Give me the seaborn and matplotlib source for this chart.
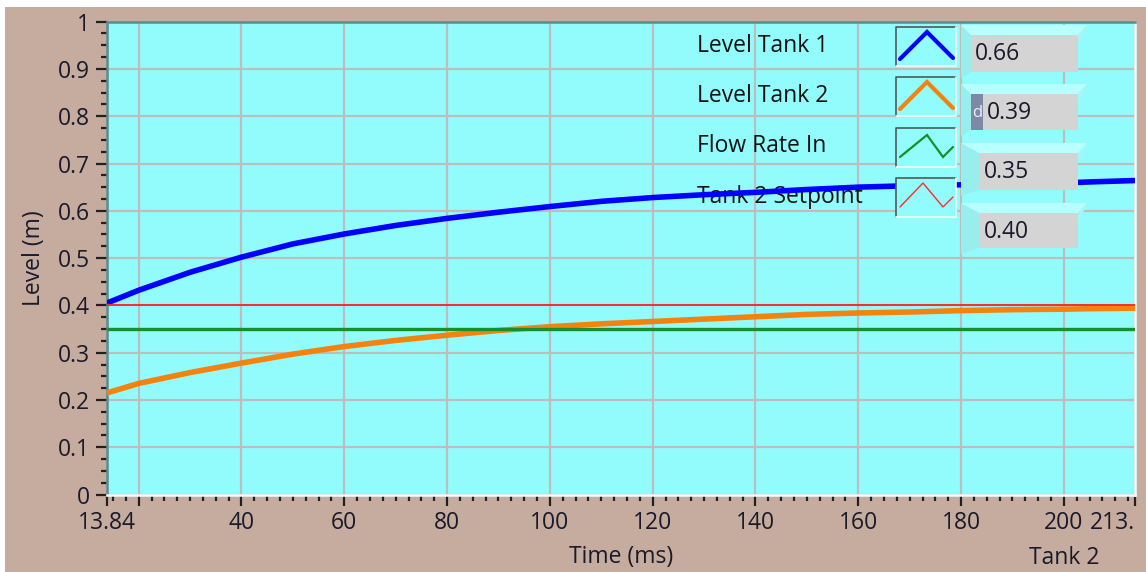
import matplotlib
matplotlib.use("Agg")
import matplotlib.pyplot as plt
import numpy as np
import pandas as pd
import seaborn as sns
from matplotlib.patches import Rectangle, Polygon
from matplotlib.lines import Line2D
from matplotlib.ticker import MultipleLocator, FixedLocator

# ---- data -------------------------------------------------------------
time_ms = [13.84, 20, 30, 40, 50, 60, 70, 80, 90, 100, 110, 120, 130,
           140, 150, 160, 170, 180, 190, 200, 205, 213.84]
level_tank1 = [0.405, 0.432, 0.470, 0.502, 0.530, 0.551, 0.569, 0.584,
               0.597, 0.609, 0.620, 0.628, 0.634, 0.639, 0.645, 0.650,
               0.653, 0.655, 0.657, 0.659, 0.661, 0.664]
level_tank2 = [0.215, 0.235, 0.258, 0.278, 0.297, 0.313, 0.326, 0.337,
               0.347, 0.355, 0.361, 0.366, 0.371, 0.376, 0.381, 0.384,
               0.386, 0.389, 0.391, 0.392, 0.393, 0.394]
flow_rate_in = [0.35] * len(time_ms)
tank2_setpoint = [0.40] * len(time_ms)

series_names = ["Level Tank 1", "Level Tank 2", "Flow Rate In", "Tank 2 Setpoint"]
series_values = [level_tank1, level_tank2, flow_rate_in, tank2_setpoint]
series_colors = ["#0000FF", "#F5820F", "#16902A", "#FF2A2A"]
series_widths = [4.0, 4.0, 2.4, 1.4]

x_major = [13.84, 20, 40, 60, 80, 100, 120, 140, 160, 180, 200, 213.84]
x_labels = ["13.84", "", "40", "60", "80", "100", "120", "140", "160", "180", "200", "213."]
y_major = [0, 0.1, 0.2, 0.3, 0.4, 0.5, 0.6, 0.7, 0.8, 0.9, 1.0]
y_labels = ["0", "0.1", "0.2", "0.3", "0.4", "0.5", "0.6", "0.7", "0.8", "0.9", "1"]

# ---- style ------------------------------------------------------------
BG = "#C5AC9E"
PLOT_BG = "#92FCFC"
TXT = "#1a1a2a"
FS = 16.5
sns.set_theme(style="whitegrid")
plt.rcParams["font.family"] = ["Open Sans", "DejaVu Sans"]

W, H = 1146, 572
fig = plt.figure(figsize=(W / 100, H / 100), dpi=100, facecolor=BG)


def fx(px):
    return px / W


def fy(py):
    return 1 - py / H


ax = fig.add_axes([fx(107), fy(494.6), fx(1135) - fx(107), (494.6 - 21.6) / H])
ax.set_facecolor(PLOT_BG)

# white strips along the top and left of the panel
fig.patches.append(Rectangle((0, fy(7)), 1, 7 / H, transform=fig.transFigure,
                             facecolor="white", edgecolor="none", zorder=0))
fig.patches.append(Rectangle((0, 0), fx(5), 1, transform=fig.transFigure,
                             facecolor="white", edgecolor="none", zorder=0))

# ---- curves -----------------------------------------------------------
df = pd.DataFrame({
    "Time (ms)": np.tile(time_ms, len(series_names)),
    "Level (m)": np.concatenate(series_values),
    "Series": np.repeat(series_names, len(time_ms)),
})
for name, color, lw in zip(series_names, series_colors, series_widths):
    sns.lineplot(data=df[df["Series"] == name], x="Time (ms)", y="Level (m)",
                 color=color, linewidth=lw, ax=ax, legend=False, zorder=3,
                 solid_capstyle="butt")

ax.set_xlim(13.84, 213.84)
ax.set_ylim(0, 1)

# ---- axes, ticks, grid ----------------------------------------------
ax.set_axisbelow(True)
ax.grid(True, which="major", color="#BDBDBD", linewidth=1.6, alpha=1.0)
ax.xaxis.set_major_locator(FixedLocator(x_major))
ax.xaxis.set_minor_locator(MultipleLocator(2.5))
ax.yaxis.set_major_locator(FixedLocator(y_major))
ax.yaxis.set_minor_locator(MultipleLocator(0.025))
ax.set_xticklabels(x_labels)
ax.set_yticklabels(y_labels)
ax.tick_params(axis="both", which="major", direction="out", length=8, width=1.6,
               color="#202020", labelsize=FS, labelcolor=TXT, pad=4)
ax.tick_params(axis="both", which="minor", direction="out", length=4.5, width=1.6,
               color="#202020")
ax.tick_params(axis="x", which="both", bottom=True)
ax.tick_params(axis="y", which="both", left=True)
ax.xaxis.get_majorticklabels()[-1].set_horizontalalignment("right")

for side in ("left", "top"):
    ax.spines[side].set_color("#5E8C8C")
    ax.spines[side].set_linewidth(1.8)
for side in ("right", "bottom"):
    ax.spines[side].set_color("#EFFFFF")
    ax.spines[side].set_linewidth(1.8)

ax.set_ylabel("Level (m)", fontsize=FS, color=TXT, labelpad=9)
ax.set_xlabel("Time (ms)", fontsize=FS, color=TXT, labelpad=7)
fig.text(fx(1064), fy(546), "Tank 2", fontsize=FS, color=TXT,
         ha="center", va="top")

# ---- plot legend ------------------------------------------------------
row_y = [46, 96, 146, 197]
icon_paths = [
    [(900, 59), (927, 32), (953, 58)],
    [(900, 109), (927, 82), (953, 108)],
    [(900, 157), (927, 135), (943, 157), (953, 147)],
    [(900, 207), (923, 183), (943, 207), (953, 197)],
]
icon_box_top = [27, 77, 128, 178]
icon_lw = [3.0, 3.0, 1.6, 1.0]
for i, name in enumerate(series_names):
    ax.text(fx(697), fy(row_y[i]), name, transform=fig.transFigure, fontsize=FS,
            color="#111111", ha="left", va="center", zorder=2, clip_on=False)
    t = icon_box_top[i]
    ax.add_patch(Rectangle((fx(896), fy(t + 39)), 60 / W, 39 / H,
                           transform=fig.transFigure, facecolor=PLOT_BG,
                           edgecolor="none", zorder=4, clip_on=False))
    ax.add_line(Line2D([fx(896), fx(896), fx(956)], [fy(t + 39), fy(t), fy(t)],
                       transform=fig.transFigure, color="#505A5A", lw=1.2,
                       zorder=4.5, clip_on=False))
    ax.add_line(Line2D([fx(896), fx(956), fx(956)], [fy(t + 39), fy(t + 39), fy(t)],
                       transform=fig.transFigure, color="#F4FFFF", lw=1.2,
                       zorder=4.5, clip_on=False))
    px, py = zip(*icon_paths[i])
    ax.add_line(Line2D([fx(p) for p in px], [fy(p) for p in py],
                       transform=fig.transFigure, color=series_colors[i],
                       lw=icon_lw[i], zorder=5, clip_on=False,
                       solid_joinstyle="miter"))

# ---- value read-outs --------------------------------------------------
readout_boxes = [(971, 35, 1078, 72), (971, 94, 1078, 130),
                 (979, 153, 1078, 190), (979, 213, 1078, 248)]
readout_text_x = [975, 987, 984, 984]
for i, (x0, y0, x1, y1) in enumerate(readout_boxes):
    bx0 = 961
    top = y0 - 10
    poly_left = [(bx0, top), (x0, y0), (x0, y1), (bx0, y1 + 6)]
    poly_top = [(bx0, top), (x1 + 9, top), (x1, y0), (x0, y0)]
    poly_right = [(x1 + 9, top), (x1 + 9, top + 2), (x1, y0 + 9), (x1, y0)]
    for poly, col in ((poly_left, "#98EDED"), (poly_top, "#B8FFFF"),
                      (poly_right, "#A6F6F6")):
        ax.add_patch(Polygon([(fx(a), fy(b)) for a, b in poly], closed=True,
                             transform=fig.transFigure, facecolor=col,
                             edgecolor="none", zorder=6, clip_on=False))
    ax.add_patch(Rectangle((fx(x0), fy(y1)), (x1 - x0) / W, (y1 - y0) / H,
                           transform=fig.transFigure, facecolor="#D4D4D4",
                           edgecolor="none", zorder=6.5, clip_on=False))
    ax.text(fx(readout_text_x[i]), fy((y0 + y1) / 2 + 1),
            f"{series_values[i][-1]:.2f}", transform=fig.transFigure,
            fontsize=FS, color=TXT, ha="left", va="center",
            zorder=7, clip_on=False)

# index marker on the second read-out
ax.add_patch(Rectangle((fx(971), fy(130)), 12 / W, 36 / H, transform=fig.transFigure,
                       facecolor="#7C8AA6", edgecolor="none", zorder=7, clip_on=False))
ax.text(fx(977), fy(113), "d", transform=fig.transFigure, fontsize=12,
        color="#EEEEF5", ha="center", va="center", zorder=7.5, clip_on=False)

fig.savefig("out.png", dpi=100, facecolor=BG)
